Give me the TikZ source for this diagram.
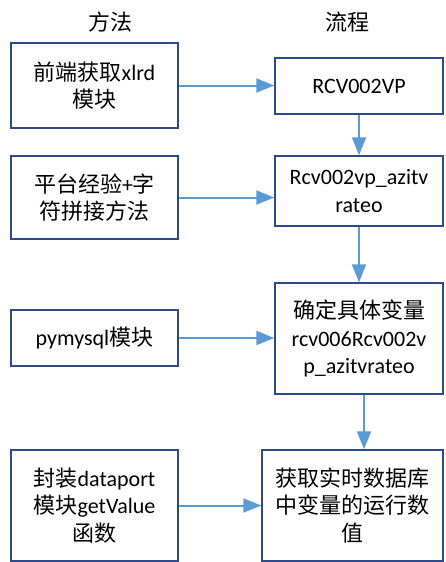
\documentclass[tikz,border=0pt]{standalone}
\usepackage{fontspec}
\setmainfont{Carlito}
\newfontfamily\cjk{Noto Sans CJK SC}
\newcommand{\zh}[1]{{\cjk #1}}
\usepackage{tikz}
\usetikzlibrary{arrows.meta}
\definecolor{boxblue}{HTML}{2F4A8A}
\definecolor{flowblue}{HTML}{5B9BD5}

\begin{document}
\begin{tikzpicture}[x=1pt,y=-1pt,
    box/.style={draw=boxblue,line width=1.5pt,align=center,inner sep=0pt,
        font=\fontsize{22}{27.5}\selectfont},
    flow/.style={draw=flowblue,line width=2pt,-{Triangle[length=18pt,width=14pt]}},
    head/.style={font=\fontsize{22}{27.5}\selectfont\cjk}]
    \useasboundingbox (0,0) rectangle (445,562);
    % column titles
    \node[head] (hmethod) at (110,22) {方法};
    \node[head] (hflow) at (347,22) {流程};
    % methods
    \node[box,minimum width=167pt,minimum height=85pt] (m1) at (94.5,85.5) {\zh{前端获取}xlrd\\\zh{模块}};
    \node[box,minimum width=167pt,minimum height=83pt] (m2) at (94.5,197.5) {\zh{平台经验}+\zh{字}\\\zh{符拼接方法}};
    \node[box,minimum width=167pt,minimum height=56pt] (m3) at (94.5,338) {pymysql\zh{模块}};
    \node[box,minimum width=167pt,minimum height=111pt] (m4) at (94.5,505.5) {\zh{封装}dataport\\\zh{模块}getValue\\\zh{函数}};
    % flow
    \node[box,minimum width=168pt,minimum height=56pt] (f1) at (359,86) {RCV002VP};
    \node[box,minimum width=168pt,minimum height=70pt] (f2) at (359,191) {Rcv002vp\_azitv\\rateo};
    \node[box,minimum width=168pt,minimum height=111pt] (f3) at (359,338.5) {\zh{确定具体变量}\\rcv006Rcv002v\\p\_azitvrateo};
    \node[box,minimum width=181pt,minimum height=111pt] (f4) at (352.5,505.5) {\zh{获取实时数据库}\\\zh{中变量的运行数}\\\zh{值}};
    % connectors
    \draw[flow] (m1.east) -- (m1.east -| f1.west);
    \draw[flow] (m2.east) -- (m2.east -| f2.west);
    \draw[flow] (m3.east) -- (m3.east -| f3.west);
    \draw[flow] (m4.east) -- (m4.east -| f4.west);
    \draw[flow] (f1.south) -- (f1.south |- f2.north);
    \draw[flow] (f2.south) -- (f2.south |- f3.north);
    \draw[flow] ([xshift=5pt]f3.south) -- ([xshift=5pt]f3.south |- f4.north);
\end{tikzpicture}
\end{document}
